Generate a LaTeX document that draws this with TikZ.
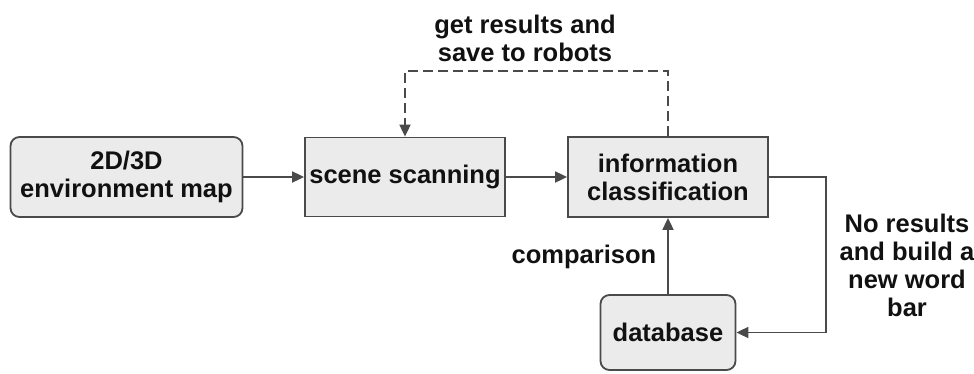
\documentclass[tikz,border=0pt]{standalone}
\usepackage{fontspec}
\setmainfont{Liberation Sans}
\usetikzlibrary{arrows.meta}
\definecolor{boxfill}{HTML}{EBEBEB}
\definecolor{linec}{HTML}{4A4A4A}
\definecolor{textc}{HTML}{111111}
\begin{document}
\begin{tikzpicture}[x=1pt,y=-1pt,
  every node/.style={font=\fontsize{25.5}{28}\selectfont\bfseries, text=textc},
  box/.style={draw=linec, line width=1.8pt, fill=boxfill, align=center, inner sep=0pt},
  rbox/.style={box, rounded corners=9pt},
  conn/.style={draw=linec, line width=1.8pt, -{Triangle[length=12pt,width=11pt]}},
  dashline/.style={dash pattern=on 10pt off 5pt},
  lbl/.style={align=center}]
\useasboundingbox (0,0) rectangle (974,373);
\node[rbox, minimum width=232pt, minimum height=80pt] (map) at (126.5,177) {2D/3D\\environment map};
\node[box, minimum width=200pt, minimum height=79pt] (scan) at (405,177) {scene scanning};
\node[box, minimum width=200pt, minimum height=80pt] (info) at (668,177) {information\\classification};
\node[rbox, minimum width=135pt, minimum height=75pt] (db) at (668,332.5) {database};
\draw[conn] (map) -- (scan);
\draw[conn] (scan) -- (info);
\draw[conn] (info.east) -- ++(57,0) coordinate (c1) |- (db.east);
\draw[conn] (db) -- (info);
\draw[conn, dashline] (info.north) -- ++(0,-65) coordinate (c2) -| (scan.north);
\node[lbl] (t1) at (525,38.5) {get results and\\save to robots};
\node[lbl] (t2) at (584,257) {comparison};
\node[lbl] (t3) at (907,265.5) {No results\\and build a\\new word\\bar};
\end{tikzpicture}
\end{document}
